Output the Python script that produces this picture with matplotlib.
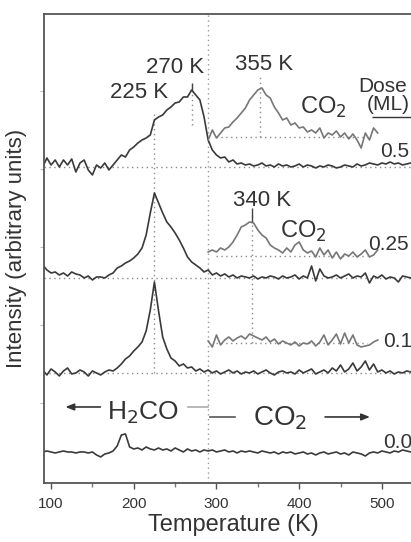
import numpy as np
import matplotlib
matplotlib.use('Agg')
import matplotlib.pyplot as plt

plt.rcParams['font.family'] = ['Liberation Sans', 'DejaVu Sans']

# temperature grids (K)
temp = np.arange(90, 545, 5)        # H2CO traces, 90..540
temp_co2 = np.arange(290, 500, 5)   # CO2 traces, 290..495

# dose labels and baseline offsets (arbitrary units)
doses = ['0.0', '0.1', '0.25', '0.5']
offsets = [31, 110, 205, 316]
co2_offsets = [140, 227, 346]       # CO2 traces for 0.1, 0.25, 0.5 ML

# H2CO signal above baseline
h2co_00 = [0, 1, 0, -1, 0, 1, 0, 0, -1, 0,
           0, -1, 0, -3, -5, -2, -1, 1, 6, 17,
           18, 5, 3, 4, 2, 5, 3, 2, 4, 2,
           3, 1, 4, 2, 0, 3, 1, 2, 0, 2,
           1, 2, 0, 1, 2, 0, 1, -1, 1, 0,
           1, 0, -1, 1, 0, -1, 0, -2, 0, -1,
           0, -2, -1, 0, -2, -1, -3, -1, 0, -2,
           -1, 0, -2, -1, -3, 0, -1, -2, -4, -1,
           0, -1, 1, 0, -1, 1, 0, 2, 1, 0,
           1]
h2co_01 = [3, -2, 4, 1, -3, 2, 5, -1, 0, 3,
           1, -3, 2, 0, -2, 1, 3, 2, 5, 9,
           14, 17, 22, 26, 31, 42, 63, 91, 62, 36,
           24, 15, 12, 7, 9, 5, 6, 2, 4, 1,
           3, 0, 2, -1, 1, 3, 0, 2, -1, 1,
           0, 2, -1, 1, 3, 0, -2, 1, 2, 0,
           1, -1, 3, 0, 2, 4, -1, 1, 3, 0,
           5, 2, 8, 1, 4, 10, 2, 6, 12, 3,
           9, 1, 3, 0, 2, -1, 1, 0, 2, 1,
           0]
h2co_025 = [13, 8, 5, 6, 3, 5, 2, 6, 4, 3,
            0, 2, -2, 1, 1, 0, 3, 5, 10, 12,
            15, 17, 20, 24, 30, 43, 65, 85, 75, 65,
            56, 51, 45, 38, 30, 21, 16, 13, 10, 6,
            8, 3, 5, 2, 4, 1, 3, 0, 2, 1,
            0, 2, -1, 1, 0, 2, 1, -1, 2, 0,
            1, 3, -1, 2, 0, 12, -3, 9, 2, 0,
            1, 3, 0, 2, 4, 0, 2, 1, 5, -5,
            2, 0, 3, -1, 1, 0, -4, 2, 1, 0,
            2]
h2co_05 = [0, 9, 2, 7, 0, 7, 2, 8, -5, 4,
           7, -3, -8, 2, -1, 4, -3, 2, 7, 12,
           10, 17, 20, 24, 27, 29, 32, 47, 50, 52,
           57, 60, 64, 65, 70, 70, 77, 72, 67, 50,
           27, 17, 12, 9, 10, 5, 7, 3, 4, 2,
           3, 1, 2, 4, 1, 2, 0, 3, 1, 2,
           0, 1, 3, 0, 2, 1, -1, 1, 0, 2,
           1, -1, 0, 2, 1, 0, 3, 1, 2, 4,
           3, 2, 4, 3, 5, 3, 4, 2, 3, 4,
           3]

# CO2 signal above its own baseline
co2_01 = [2, -4, 8, -2, 3, 6, 2, 5, 7, 4,
          9, 7, 5, 3, 6, 1, 4, -1, 2, 0,
          -2, 1, -3, 0, -1, 2, -3, 1, 8, -2,
          3, 9, -1, 10, 0, 8, -2, -4, -3, -2,
          1, 3]
co2_025 = [4, 6, 4, 8, 6, 9, 14, 21, 29, 31,
           34, 33, 26, 21, 18, 11, 8, 6, 3, 8,
           4, 11, 14, 6, 3, 5, -1, 8, 1, 6,
           -2, 4, -3, 2, 0, 4, -1, 2, 6, -1,
           1, 6]
co2_05 = [-3, 7, -1, 4, 9, 10, 15, 19, 24, 29,
          37, 42, 47, 49, 42, 39, 30, 24, 17, 19,
          12, 14, 9, 10, 5, 7, 4, 9, -1, 4,
          2, 6, 0, 4, -2, 3, -3, -11, 4, -3,
          9, 4]

h2co = [h2co_00, h2co_01, h2co_025, h2co_05]
co2 = [co2_01, co2_025, co2_05]

txt = '#333333'
dot = (0, (1, 2.5))

fig = plt.figure(figsize=(4.11, 5.42), dpi=100)
ax = fig.add_axes([0.1071, 0.1089, 0.9226, 0.8653])

# guide lines
for off in offsets[1:]:
    ax.hlines(off, 91.5, 550, colors='#8a8a8a', linestyles=dot, lw=1)
for off in co2_offsets:
    ax.hlines(off, 300, 482, colors='#8a8a8a', linestyles=dot, lw=1)
ax.vlines(290, 0, 469, colors='#9a9a9a', linestyles=dot, lw=1)
ax.vlines(225, 110, 370, colors='#8a8a8a', linestyles=dot, lw=1)
ax.vlines(270, 358, 398, colors='#8a8a8a', linestyles=dot, lw=1)
ax.vlines(353, 346, 406, colors='#8a8a8a', linestyles=dot, lw=1)
ax.vlines(343, 140, 271, colors='#8a8a8a', linestyles=dot, lw=1)
ax.vlines(343, 261, 275, colors='#444444', lw=1)
ax.vlines(270, 393, 400, colors='#444444', lw=1)

for off, sig in zip(offsets, h2co):
    ax.plot(temp, off + np.array(sig), color='#3a3a3a', lw=1.2)
for off, sig in zip(co2_offsets, co2):
    ax.plot(temp_co2, off + np.array(sig), color='#777777', lw=1.2)

# peak labels
ax.text(250, 415, '270 K', ha='center', va='center', fontsize=16, color=txt)
ax.text(357, 418, '355 K', ha='center', va='center', fontsize=16, color=txt)
ax.text(206, 390, '225 K', ha='center', va='center', fontsize=16, color=txt)
ax.text(355, 282, '340 K', ha='center', va='center', fontsize=16, color=txt)
ax.text(429, 369, 'CO$_2$', ha='center', va='baseline', fontsize=17, color=txt)
ax.text(405, 245, 'CO$_2$', ha='center', va='baseline', fontsize=17, color=txt)

# dose column
ax.text(471, 391, 'Dose', ha='left', va='baseline', fontsize=15, color=txt, clip_on=False)
ax.text(482, 373, '(ML)', ha='left', va='baseline', fontsize=15, color=txt, clip_on=False)
ax.hlines(366, 488, 560, colors='#333333', lw=1, clip_on=False)
dose_pos = [(501, 35), (501, 136), (483, 233), (498, 326)]
for d, (x, y) in zip(doses, dose_pos):
    ax.text(x, y, d, ha='left', va='baseline', fontsize=15, color=txt, clip_on=False)

# H2CO / CO2 region markers
ax.text(167.7, 63, 'H$_2$CO', ha='left', va='baseline', fontsize=19, color=txt)
ax.text(344, 58, 'CO$_2$', ha='left', va='baseline', fontsize=20, color=txt)
ax.annotate('', xy=(114, 76), xytext=(163, 76),
            arrowprops=dict(arrowstyle='-|>,head_length=0.5,head_width=0.2',
                            color='#333333', lw=1.2))
ax.plot([265.6, 290], [76, 76], color='#aaaaaa', lw=1.2)
ax.plot([292, 322], [66, 66], color='#555555', lw=1.2)
ax.annotate('', xy=(489, 66), xytext=(428, 66),
            arrowprops=dict(arrowstyle='-|>,head_length=0.5,head_width=0.2',
                            color='#333333', lw=1.2))

ax.set_xlim(91.5, 550)
ax.set_ylim(0, 469)
ax.set_xticks([100, 200, 300, 400, 500])
ax.set_xticks([150, 250, 350, 450], minor=True)
ax.set_yticks([80, 158, 236, 314, 392])
ax.set_yticklabels([])
ax.tick_params(axis='x', which='major', direction='out', length=4, width=1,
               pad=6, labelsize=11, colors='#555555', labelcolor=txt)
ax.tick_params(axis='x', which='minor', direction='out', length=3, width=1,
               colors='#777777')
ax.tick_params(axis='y', direction='out', length=3, width=0.8, colors='#bbbbbb')

for side in ['left', 'top', 'bottom']:
    ax.spines[side].set_color('#555555')
    ax.spines[side].set_linewidth(1.3)
ax.spines['right'].set_visible(False)

ax.set_xlabel('Temperature (K)', fontsize=17, color=txt, labelpad=2)
ax.set_ylabel('Intensity (arbitrary units)', fontsize=16, color=txt)
ax.yaxis.set_label_coords(-0.045, 0.5)

fig.savefig('out.png', dpi=100)
